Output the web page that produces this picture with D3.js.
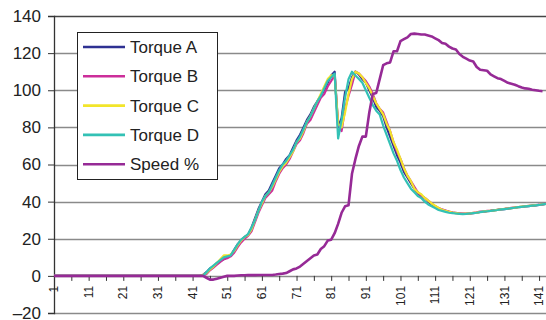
<!DOCTYPE html>
<html lang="en">
  <head>
    <meta charset="utf-8">
    <title>Torque and speed</title>
    <script src="https://d3js.org/d3.v7.min.js"></script>
    <style>
      body { margin: 0; background: #fff; }
      text { font-family: "Liberation Sans", Arial, sans-serif; fill: #222; }
    </style>
  </head>
  <body>
    <script>
      // sample numbers 1..143
      var samples = d3.range(1, 144)
      var xTickLabels = [1, 11, 21, 31, 41, 51, 61, 71, 81, 91, 101, 111, 121, 131, 141]
      var yTicks = [-20, 0, 20, 40, 60, 80, 100, 120, 140]
      var seriesNames = ["Torque A", "Torque B", "Torque C", "Torque D", "Speed %"]
      var seriesColors = ["#2e3192", "#cc2e9a", "#f2e52a", "#33c1b5", "#962a96"]

      var torqueA = [0,0,0,0,0,0,0,0,0,0, 0,0,0,0,0,0,0,0,0,0, 0,0,0,0,0,0,0,0,0,0, 0,0,0,0,0,0,0,0,0,0, 0,0,0,
        0.5,2,4,5,7,8,9,10,11, 14,17,19,21,22,26,31,36,40,44, 46,50,54,58,60,63,65,69,73,76, 80,84,87,91,94,97,100,104,108,110,
        80,85,99,101,107,110,108.5,106,104,100, 96,91,89,86,80,75,70,65,61,56, 53,50,47,44.5,43,42,40,38.5,37.5,36.5,
        35.5,35,34.5,34,33.8,33.6,33.4,33.4,33.6,33.8, 34,34.4,34.6,34.8,35,35.3,35.6,35.8,36,36.2, 36.5,36.8,37,37.2,37.4,37.6,37.8,38,38.2,38.5, 38.8]
      var torqueB = [0,0,0,0,0,0,0,0,0,0, 0,0,0,0,0,0,0,0,0,0, 0,0,0,0,0,0,0,0,0,0, 0,0,0,0,0,0,0,0,0,0, 0,0,0,
        0,1,3,4.5,6,7.5,9,9.5,10.5, 12.5,15.5,18,20,21.5,24,29,34,38,42, 44,46,51,55,58,60,63,67,71,73, 77,82,84,88,92,96,98,102,105,108,
        82,78,90,97,103,110,109,107,105,102, 98,93,90,88,83,78,72,67,63,58, 54,51,48,45,43,42,40.5,39,37.5,36.5,
        35.8,35.2,34.6,34.2,34,33.6,33.5,33.6,33.5,34, 34.2,34.6,34.5,35,35.2,35.5,35.6,36,36.1,36.4, 36.6,36.8,37.1,37.2,37.5,37.7,37.8,38.1,38.3,38.5, 38.9]
      var torqueC = [0,0,0,0,0,0,0,0,0,0, 0,0,0,0,0,0,0,0,0,0, 0,0,0,0,0,0,0,0,0,0, 0,0,0,0,0,0,0,0,0,0, 0,0,0,
        0.5,1.5,3.5,5,7,9,11,11,11.5, 13.5,16.5,19,21,22,25,30,35,39,43, 45,48,52,56,59,61,64,67,72,74, 78,83,86,90,94,98,102,106,108,108,
        82,80,88,98,106,110,109,107,104,101, 97,93,90,87,82,78,72,68,63,58, 54,51,47,45,44,42,40.5,39,37.8,36.6,
        35.6,35,34.5,34.1,33.8,33.5,33.4,33.5,33.6,33.9, 34.1,34.4,34.7,34.9,35.1,35.3,35.6,35.9,36.1,36.3, 36.5,36.8,37,37.3,37.5,37.7,37.9,38.1,38.3,38.6, 38.8]
      var torqueD = [0,0,0,0,0,0,0,0,0,0, 0,0,0,0,0,0,0,0,0,0, 0,0,0,0,0,0,0,0,0,0, 0,0,0,0,0,0,0,0,0,0, 0,0,0,
        0,2,4,5.5,7,8.5,10,10.5,11, 14,17,19.5,21,22.5,26,30,35,40,43, 45,49,53,57,60,62,65,68,72,75, 79,83,86,90,94,97,101,105,107,109,
        74,84,96,106,110,108,106,104,100,96, 92,89,87,81,76,71,66,62,57,53, 50,47,45,43,42,40,38.5,37.5,36.5,35.5,
        35,34.5,34,33.8,33.6,33.4,33.3,33.4,33.6,33.8, 34,34.3,34.6,34.8,35,35.3,35.5,35.8,36,36.2, 36.5,36.7,37,37.2,37.4,37.6,37.8,38,38.2,38.5, 38.8]
      var speed = [0,0,0,0,0,0,0,0,0,0, 0,0,0,0,0,0,0,0,0,0, 0,0,0,0,0,0,0,0,0,0, 0,0,0,0,0,0,0,0,0,0, 0,0,0,
        0,-1,-2,-2,-1.5,-1,-0.5,0,0, 0,0.2,0.3,0.3,0.4,0.4,0.4,0.5,0.5,0.5, 0.5,0.5,0.7,1,1.2,1.5,2.5,3.5,4,5, 6.5,8,9.5,11,11.5,14.5,16,19,19.5,23,
        28,34,37.5,38,55,63,70,75,75,88, 98,98.5,106,113.5,114.5,115,121,121,126.5,127.5, 128.5,130.3,130.5,130.3,130,130,129.5,129,128,127,
        125.5,125,123.5,122.5,122,119.5,118,117,116,115.5, 112.5,111,110.8,110.5,108.5,107.5,106.5,106,105,104, 103.5,103,102.2,101.5,101,100.8,100.3,100,99.7,99.5]

      var allSeries = [torqueA, torqueB, torqueC, torqueD, speed]

      var width = 546, height = 320
      var plotLeft = 54, plotRight = 546, plotTop = 16, plotBottom = 313

      var svg = d3.select("body").append("svg")
        .attr("width", width)
        .attr("height", height)

      var x = d3.scaleLinear().domain([1, 143]).range([plotLeft, plotRight])
      var y = d3.scaleLinear().domain([-20, 140]).range([plotBottom, plotTop])

      // horizontal grid lines
      svg.append("g")
        .selectAll("line")
        .data(yTicks)
        .enter()
        .append("line")
          .attr("x1", plotLeft)
          .attr("x2", plotRight)
          .attr("y1", function(d) { return Math.round(y(d)) + 0.5 })
          .attr("y2", function(d) { return Math.round(y(d)) + 0.5 })
          .attr("stroke", function(d) { return d == 140 ? "#444" : "#8a8a8a" })
          .attr("stroke-width", 1.3)

      // y axis
      var yAxis = svg.append("g")
        .attr("transform", "translate(" + plotLeft + ",0)")
        .call(d3.axisLeft(y).tickValues(yTicks).tickSize(6).tickPadding(7)
          .tickFormat(function(d) { return d < 0 ? "\u201320" : d }))
      yAxis.select(".domain").attr("stroke", "#333").attr("stroke-width", 1.3)
      yAxis.selectAll(".tick line").attr("stroke", "#333")
      yAxis.selectAll("text").style("font-size", "17px").attr("fill", "#222")

      // x axis sitting on zero
      var xAxis = svg.append("g")
        .attr("transform", "translate(0," + y(0) + ")")
        .call(d3.axisBottom(x).tickValues(d3.range(1, 144, 5)).tickSize(5).tickFormat(""))
      xAxis.select(".domain").remove()
      xAxis.selectAll(".tick line").attr("stroke", "#333")

      svg.append("g")
        .selectAll("text")
        .data(xTickLabels)
        .enter()
        .append("text")
          .attr("transform", function(d) { return "translate(" + x(d) + "," + (y(0) + 10) + ") rotate(-90)" })
          .attr("dy", "0.35em")
          .style("text-anchor", "end")
          .style("font-size", "12px")
          .text(function(d) { return d })

      // series lines
      var line = d3.line()
        .x(function(d, i) { return x(samples[i]) })
        .y(function(d) { return y(d) })

      svg.append("g")
        .selectAll("path")
        .data(allSeries)
        .enter()
        .append("path")
          .attr("d", line)
          .attr("fill", "none")
          .attr("stroke", function(d, i) { return seriesColors[i] })
          .attr("stroke-width", function(d, i) { return i == 4 ? 2.6 : 2.2 })
          .attr("stroke-linejoin", "round")

      // legend
      var legend = svg.append("g").attr("transform", "translate(77,32)")
      legend.append("rect")
        .attr("x", 0.5).attr("y", 0.5)
        .attr("width", 140).attr("height", 147)
        .attr("fill", "#fff")
        .attr("stroke", "#222")
        .attr("stroke-width", 1)

      var rows = legend.selectAll(".row")
        .data(seriesNames)
        .enter()
        .append("g")
          .attr("transform", function(d, i) { return "translate(0," + (15 + i * 29.3) + ")" })
      rows.append("line")
        .attr("x1", 6).attr("x2", 48)
        .attr("stroke", function(d, i) { return seriesColors[i] })
        .attr("stroke-width", 2.6)
      rows.append("text")
        .attr("x", 53)
        .attr("dy", "0.36em")
        .style("font-size", "17px")
        .text(function(d) { return d })
    </script>
  </body>
</html>
